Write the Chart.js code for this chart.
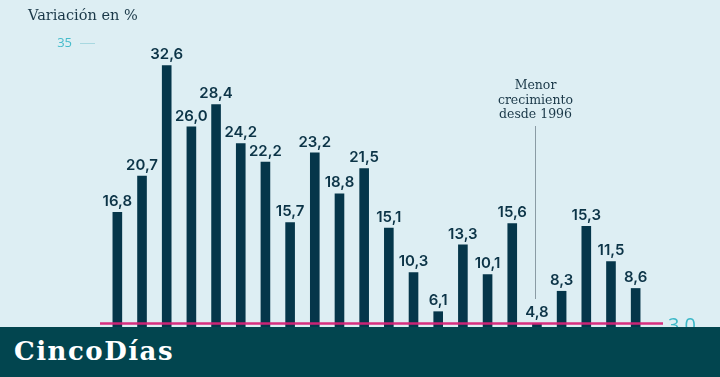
<!DOCTYPE html>
<html lang="es">
<head>
<meta charset="utf-8">
<script src="https://cdn.jsdelivr.net/npm/chart.js@4.4.1/dist/chart.umd.min.js"></script>
<style>
  html, body { margin: 0; padding: 0; }
  body { width: 720px; height: 377px; background: #ddeef3; position: relative; overflow: hidden; }
  #wrap { position: absolute; left: 0; top: 0; width: 720px; height: 377px; }
  #footer { position: absolute; left: 0; top: 327px; width: 720px; height: 50px; background: #02454f; }
  #footer span {
    position: absolute; left: 14px; top: 6px;
    font-family: "DejaVu Serif", serif; font-size: 26px; font-weight: bold; letter-spacing: 1.5px;
    color: #ffffff; line-height: 36px;
  }
</style>
</head>
<body>
<div id="wrap"><canvas id="chart" width="720" height="377"></canvas></div>
<div id="footer"><span>CincoDías</span></div>
<script>
  // Bars, left to right (variación en %)
  const categories = ['1', '2', '3', '4', '5', '6', '7', '8', '9', '10', '11',
                      '12', '13', '14', '15', '16', '17', '18', '19', '20', '21', '22'];
  const values = [16.8, 20.7, 32.6, 26.0, 28.4, 24.2, 22.2, 15.7, 23.2, 18.8, 21.5,
                  15.1, 10.3, 6.1, 13.3, 10.1, 15.6, 4.8, 8.3, 15.3, 11.5, 8.6];
  const yTicks = [35];
  const refValue = 4.8;        // pink reference line level
  const refLabel = '3,0';
  const noteIndex = 17;        // bar pointed by the annotation
  const noteLines = ['Menor', 'crecimiento', 'desde 1996'];

  const fmt = v => v.toFixed(1).replace('.', ',');

  const overlay = {
    id: 'overlay',
    afterDatasetsDraw(chart) {
      const ctx = chart.ctx;
      const x = chart.scales.x;
      const y = chart.scales.y;
      const area = chart.chartArea;
      ctx.save();

      // title
      ctx.fillStyle = '#1a3848';
      ctx.font = '14.5px "DejaVu Serif", serif';
      ctx.textAlign = 'left';
      ctx.textBaseline = 'alphabetic';
      ctx.fillText('Variación en %', 28, 20);

      // y tick
      yTicks.forEach(t => {
        const py = y.getPixelForValue(t);
        ctx.fillStyle = '#45bccb';
        ctx.font = '13px "Open Sans", sans-serif';
        ctx.textAlign = 'right';
        ctx.textBaseline = 'middle';
        ctx.fillText(String(t), 72, py);
        ctx.strokeStyle = '#a8d8e0';
        ctx.lineWidth = 1;
        ctx.beginPath();
        ctx.moveTo(80, Math.round(py) + 0.5);
        ctx.lineTo(95, Math.round(py) + 0.5);
        ctx.stroke();
      });

      // value labels
      const meta = chart.getDatasetMeta(0);
      ctx.fillStyle = '#0c3447';
      ctx.font = '600 15px Inter, sans-serif';
      ctx.textAlign = 'center';
      ctx.textBaseline = 'alphabetic';
      meta.data.forEach((bar, i) => {
        ctx.fillText(fmt(values[i]), bar.x, bar.y - 6);
      });

      // reference line
      const ry = y.getPixelForValue(refValue);
      ctx.strokeStyle = 'rgba(214, 36, 120, 0.95)';
      ctx.lineWidth = 2.5;
      ctx.beginPath();
      ctx.moveTo(area.left - 5, ry);
      ctx.lineTo(area.right + 15, ry);
      ctx.stroke();
      ctx.fillStyle = '#3cb8c8';
      ctx.font = '20px "Open Sans", sans-serif';
      ctx.textAlign = 'left';
      ctx.textBaseline = 'middle';
      ctx.fillText(refLabel, area.right + 20, ry + 3);

      // annotation
      const nx = Math.round(x.getPixelForValue(noteIndex) - 2) + 0.5;
      ctx.fillStyle = '#1a3848';
      ctx.font = '12.5px "DejaVu Serif", serif';
      ctx.textAlign = 'center';
      ctx.textBaseline = 'middle';
      noteLines.forEach((s, i) => ctx.fillText(s, nx, 86 + i * 14.5));
      ctx.strokeStyle = '#8a9ba4';
      ctx.lineWidth = 1;
      ctx.beginPath();
      ctx.moveTo(nx, 126);
      ctx.lineTo(nx, 299);
      ctx.stroke();

      ctx.restore();
    }
  };

  new Chart(document.getElementById('chart').getContext('2d'), {
    type: 'bar',
    data: {
      labels: categories,
      datasets: [{
        data: values,
        backgroundColor: '#05364a',
        barPercentage: 0.39,
        categoryPercentage: 1.0
      }]
    },
    options: {
      responsive: false,
      animation: false,
      layout: { padding: { left: 105, right: 72, top: 43, bottom: 9 } },
      plugins: { legend: { display: false }, tooltip: { enabled: false } },
      scales: {
        x: { display: false, offset: true, grid: { display: false } },
        y: { display: false, min: 0, max: 35 }
      }
    },
    plugins: [overlay]
  });
</script>
</body>
</html>
